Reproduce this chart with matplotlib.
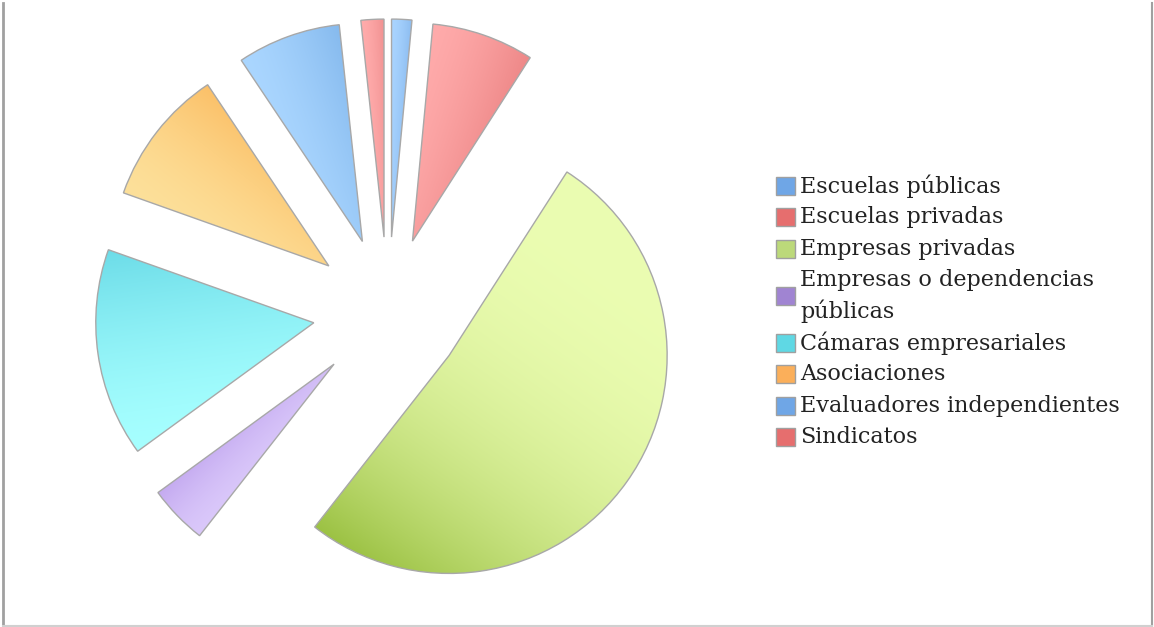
import numpy as np
import matplotlib
matplotlib.use("Agg")
import matplotlib.pyplot as plt
from matplotlib.colors import to_rgb
from matplotlib.patches import Rectangle

# data (share of the pie in %)
labels = ["Escuelas públicas", "Escuelas privadas", "Empresas privadas",
          "Empresas o dependencias\npúblicas", "Cámaras empresariales",
          "Asociaciones", "Evaluadores independientes", "Sindicatos"]
values = [1.5, 7.6, 51.6, 4.4, 15.5, 10.2, 7.7, 1.7]

# light / dark ends of each slice gradient
light = ["#a9d4ff", "#ffabab", "#ebfdb2", "#dac8fa", "#a6ffff", "#fde09a", "#aad6ff", "#ffabab"]
dark = ["#8cbcf0", "#ee8888", "#9cc244", "#c4aaf0", "#6cdce8", "#fbc068", "#86baee", "#f09090"]
legend_cols = ["#6fa6e6", "#e66e6e", "#bcd97a", "#a084d2", "#5fd8e4", "#fbaf5a", "#6fa6e6", "#e66e6e"]

W, H = 1154, 627
fig = plt.figure(figsize=(W / 100, H / 100), dpi=100)
ax = fig.add_axes([0, 0, 1, 1])

R = 218
wedges, _ = ax.pie(values, startangle=90, counterclock=False, radius=R,
                   center=(388, H - 312), explode=[75] * len(values),
                   wedgeprops=dict(edgecolor="#a8a8a8", linewidth=1.0))

# linear gradient across each wedge, darker on the clockwise side
for w, c1, c2 in zip(wedges, light, dark):
    cx, cy = w.center
    t1, t2 = w.theta1, w.theta2
    tm = np.radians((t1 + t2) / 2)
    half = np.radians(min((t2 - t1) / 2, 90))
    n = 300
    xs = np.linspace(cx - R, cx + R, n)
    ys = np.linspace(cy - R, cy + R, n)
    X, Y = np.meshgrid(xs, ys)
    s = (X - cx) * np.sin(tm) - (Y - cy) * np.cos(tm)
    t = np.clip((s / (R * np.sin(half)) + 1) / 2, 0, 1)
    p = 2.6 if (t2 - t1) > 150 else 1.5
    a, b = np.array(to_rgb(c1)), np.array(to_rgb(c2))
    img = a + (b - a) * (t[..., None] ** p)
    im = ax.imshow(img, extent=[cx - R, cx + R, cy - R, cy + R], origin="lower",
                   zorder=1, interpolation="bilinear")
    im.set_clip_path(w)
    w.set_facecolor("none")
    w.set_zorder(3)

# legend drawn by hand
y = 186
step = 31.4
for lab, col in zip(labels, legend_cols):
    nl = lab.count("\n") + 1
    for k, line in enumerate(lab.split("\n")):
        ax.text(800, H - (y + k * step), line, fontsize=16, family="DejaVu Serif",
                color="#222222", va="center", ha="left")
    ym = y + (nl - 1) * step / 2
    ax.add_patch(Rectangle((776, H - ym - 9), 19, 18, facecolor=col,
                           edgecolor="#a0a0a0", linewidth=1, zorder=4))
    y += nl * step

# outer frame
ax.plot([3, 3], [0, H - 3], color="#a0a0a0", lw=2)
ax.plot([1152, 1152], [0, H - 3], color="#a0a0a0", lw=1.5)
ax.plot([3, 1152], [1.5, 1.5], color="#d0d0d0", lw=1.5)

ax.set_xlim(0, W)
ax.set_ylim(0, H)
ax.set_aspect("equal")
ax.axis("off")

fig.savefig("out.png", dpi=100)
